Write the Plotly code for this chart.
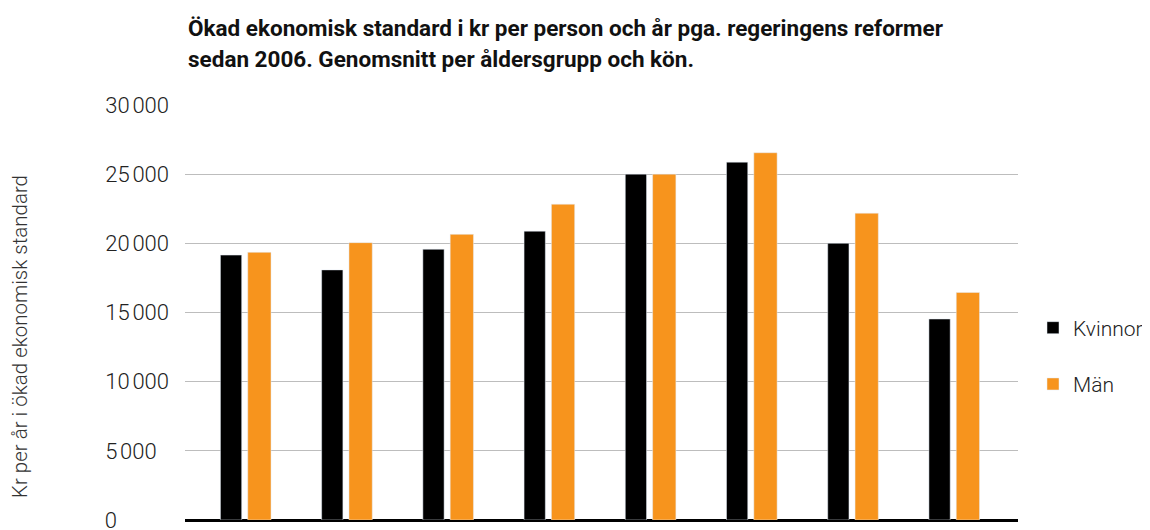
import plotly.graph_objects as go

categories = ["Grupp 1", "Grupp 2", "Grupp 3", "Grupp 4", "Grupp 5", "Grupp 6", "Grupp 7", "Grupp 8"]
kvinnor = [19150, 18080, 19570, 20880, 25000, 25870, 20000, 14530]
man = [19350, 20050, 20650, 22830, 25000, 26550, 22180, 16450]
tick_vals = [0, 5000, 10000, 15000, 20000, 25000, 30000]
tick_text = ["0", "5\u202f000", "10\u202f000", "15\u202f000", "20\u202f000", "25\u202f000", "30\u202f000"]

title_line1 = "Ökad ekonomisk standard i kr per person och år pga. regeringens reformer"
title_line2 = "sedan 2006. Genomsnitt per åldersgrupp och kön."
ytitle = "Kr per år i ökad ekonomisk standard"

# tick labels are left-aligned in the reference: pad shorter labels with figure spaces
FS, NS = "\u2007", "\u202f"
def left_pad(t):
    full = "00" + NS + "000"
    digits_missing = sum(c.isdigit() for c in full) - sum(c.isdigit() for c in t)
    ns_missing = full.count(NS) - t.count(NS)
    return t + FS * digits_missing + NS * ns_missing

tick_text_aligned = [left_pad(t) for t in tick_text]

# page has an 8px body margin, so the figure is drawn at (8, 8)
W, H = 1142, 522
L, R, T, B = 177, 132, 97, 10
PW, PH = W - L - R, H - T - B

def px(xf):
    return (xf - L) / PW

def py(yf):
    return (H - B - yf) / PH

fig = go.Figure()
fig.add_trace(go.Bar(x=categories, y=kvinnor, name="Kvinnor", marker_color="#000000",
                     width=0.21, offset=-0.25, legendgroup="k"))
fig.add_trace(go.Bar(x=categories, y=man, name="Män", marker_color="#F7941D",
                     width=0.23, offset=0.02, legendgroup="m"))

fig.update_layout(
    width=W, height=H,
    margin=dict(l=L, r=R, t=T, b=B, autoexpand=False),
    paper_bgcolor="white", plot_bgcolor="white",
    barmode="overlay",
    showlegend=True,
    legend=dict(x=px(1025), xanchor="left", y=py(348), yanchor="middle",
                font=dict(family="Roboto", size=21, color="#222222", weight=300),
                tracegroupgap=26, bgcolor="rgba(0,0,0,0)"),
    font=dict(family="Roboto", color="#222222"),
)
fig.update_xaxes(type="category", range=[-0.6, 7.63], showticklabels=False,
                 showgrid=False, showline=False, zeroline=False, ticks="")
fig.update_yaxes(range=[0, 30000], tickvals=tick_vals, ticktext=tick_text_aligned,
                 showgrid=True, gridcolor="#BDBDBD", gridwidth=1,
                 zeroline=True, zerolinecolor="#000000", zerolinewidth=3,
                 ticks="", ticklabelstandoff=15, ticklabeloverflow="allow",
                 tickfont=dict(family="Roboto", size=22, color="#222222", weight=300))
fig.add_annotation(text=ytitle, xref="paper", yref="paper", x=px(12), y=py(329),
                   xanchor="center", yanchor="middle", textangle=-90, showarrow=False,
                   font=dict(family="Roboto", size=20.5, color="#333333", weight=300))
fig.add_annotation(text=title_line1, xref="paper", yref="paper", x=px(178), y=py(20),
                   xanchor="left", yanchor="middle", showarrow=False,
                   font=dict(family="Roboto", size=22.5, color="#111111", weight=700))
fig.add_annotation(text=title_line2, xref="paper", yref="paper", x=px(178), y=py(51),
                   xanchor="left", yanchor="middle", showarrow=False,
                   font=dict(family="Roboto", size=22.5, color="#111111", weight=700))

fig.write_html("out.html")
